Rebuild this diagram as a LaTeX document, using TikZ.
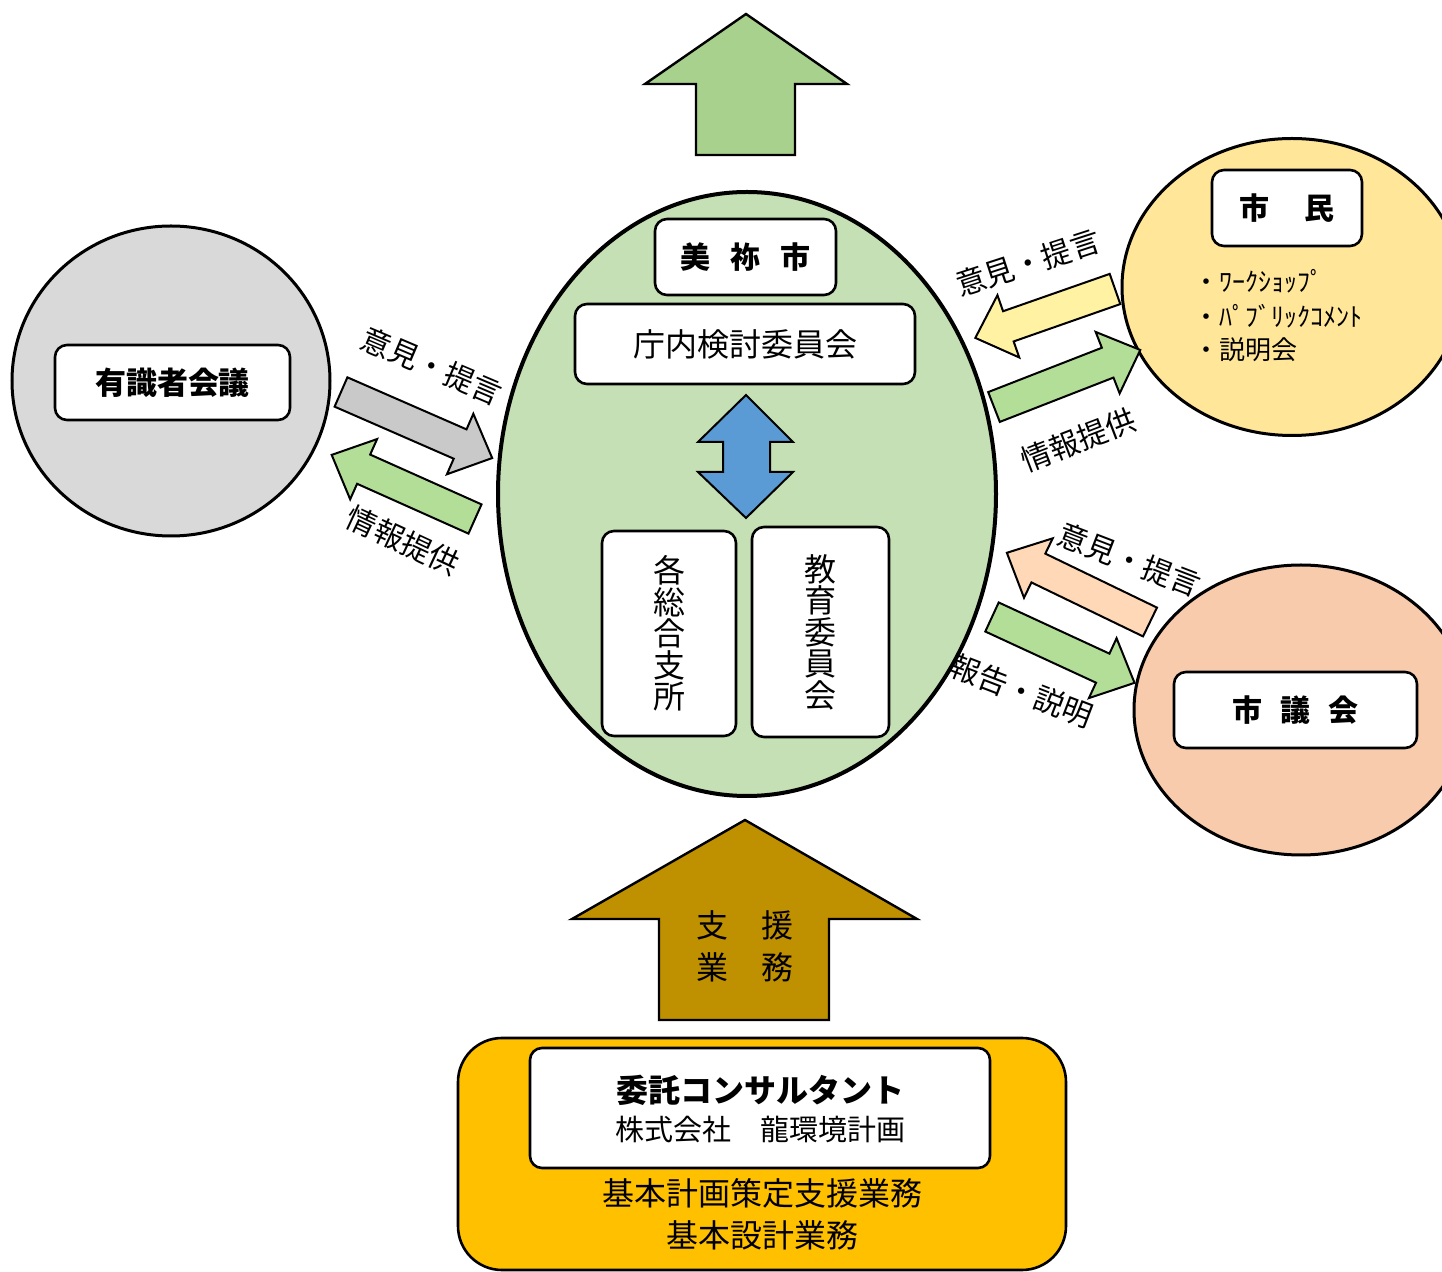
\documentclass[tikz,border=0pt]{standalone}
\usepackage{fontspec}
\setmainfont{Noto Sans CJK JP}
\usetikzlibrary{shapes.geometric}
\definecolor{topgreen}{HTML}{A9D18E}
\definecolor{ellgreen}{HTML}{C5E0B4}
\definecolor{greyc}{HTML}{D9D9D9}
\definecolor{greyarr}{HTML}{C9C9C9}
\definecolor{arrgreen}{HTML}{B3DE98}
\definecolor{yelarr}{HTML}{FFF2A3}
\definecolor{citizen}{HTML}{FFE699}
\definecolor{peacharr}{HTML}{FFD8B8}
\definecolor{council}{HTML}{F8CBAD}
\definecolor{bluearr}{HTML}{5B9BD5}
\definecolor{brownarr}{HTML}{BF9000}
\definecolor{consult}{HTML}{FFC000}
\newcommand{\blkarrow}[4]{%
  \begin{scope}[shift={#2}, rotate=#3]
    \draw[blockarr, fill=#1] (0,-16) -- (#4-35,-16) -- (#4-35,-33) -- (#4,0) -- (#4-35,33) -- (#4-35,16) -- (0,16) -- cycle;
  \end{scope}}
\begin{document}
\begin{tikzpicture}[x=0.5pt,y=-0.5pt,
  box/.style={draw, line width=1.3pt, rounded corners=6pt, fill=white, inner sep=0pt, align=center},
  blob/.style={draw, ellipse, line width=1.5pt, inner sep=0pt},
  blockarr/.style={draw, line width=1pt, line join=miter},
  bigarr/.style={draw, line width=1.2pt, line join=miter},
  lbl/.style={font=\fontsize{15}{15}\selectfont, inner sep=0pt},
  bulletitem/.style={font=\fontsize{13}{13}\selectfont, inner sep=0pt, anchor=west}]
\useasboundingbox (0,0) rectangle (1442,1272);

% top arrow
\draw[bigarr, fill=topgreen] (746,14) -- (847,84) -- (795,84) -- (795,155) -- (696,155) -- (696,84) -- (645,84) -- cycle;

% circles
\node[blob, fill=greyc, minimum width=159pt, minimum height=155pt] (expert) at (171,381) {};
\node[blob, fill=citizen, minimum width=170pt, minimum height=148.5pt] (citizen) at (1292,287) {};
\node[blob, fill=council, minimum width=167pt, minimum height=145pt] (council) at (1301,710) {};
\node[blob, fill=ellgreen, line width=2pt, minimum width=249pt, minimum height=302pt] (city) at (747,494) {};

% boxes in city
\node[box, minimum width=90.5pt, minimum height=38pt, font=\bfseries\fontsize{15}{15}\selectfont] (mine) at (745.5,257) {美\hspace{10pt}祢\hspace{10pt}市};
\node[box, minimum width=170pt, minimum height=40pt, font=\fontsize{16}{16}\selectfont] (chonai) at (745,344) {庁内検討委員会};
\node[box, minimum width=67pt, minimum height=102.5pt, font=\fontsize{16}{15.75}\selectfont] (shisho) at (669,633.5) {各\\総\\合\\支\\所};
\node[box, minimum width=68.5pt, minimum height=105pt, font=\fontsize{16}{15.75}\selectfont] (kyoiku) at (820.5,632) {教\\育\\委\\員\\会};

% blue double arrow
\draw[blockarr, fill=bluearr] (746,395) -- (793,442) -- (770,442) -- (770,472) -- (793,472) -- (746,518) -- (698,472) -- (723,472) -- (723,442) -- (698,442) -- cycle;

% other boxes
\node[box, minimum width=117.5pt, minimum height=37.5pt, font=\bfseries\fontsize{15.5}{15.5}\selectfont] (expertbox) at (172.5,382.5) {有識者会議};
\node[box, minimum width=75pt, minimum height=38pt, font=\bfseries\fontsize{15}{15}\selectfont] (citizenbox) at (1287,208) {市\hspace{17.5pt}民};
\node[box, minimum width=121.5pt, minimum height=38pt, font=\bfseries\fontsize{15}{15}\selectfont] (councilbox) at (1295.5,710) {市\hspace{9pt}議\hspace{9pt}会};

% citizen bullets
\node[bulletitem] (b1) at (1193,281) {・ﾜｰｸｼｮｯﾌﾟ};
\node[bulletitem] (b2) at (1193,316) {・ﾊﾟﾌﾞﾘｯｸｺﾒﾝﾄ};
\node[bulletitem] (b3) at (1193,350) {・説明会};

% exchange arrows
\blkarrow{greyarr}{(341,392)}{-23.6}{165}
\blkarrow{arrgreen}{(475,519)}{155.9}{157}
\blkarrow{yelarr}{(1115,289)}{-160.7}{148}
\blkarrow{arrgreen}{(994,407)}{21.3}{157}
\blkarrow{peacharr}{(1150,622)}{154.2}{159}
\blkarrow{arrgreen}{(992,617)}{-24.8}{157}

% arrow labels
\node[lbl, rotate=-23] (l1) at (432,366) {意見・提言};
\node[lbl, rotate=-25] (l2) at (403,541) {情報提供};
\node[lbl, rotate=18] (l3) at (1028,263) {意見・提言};
\node[lbl, rotate=21] (l4) at (1078,440) {情報提供};
\node[lbl, rotate=-21] (l5) at (1130,560) {意見・提言};
\node[lbl, rotate=-21] (l6) at (1022,691) {報告・説明};

% support arrow
\draw[bigarr, fill=brownarr] (745,820) -- (917,919) -- (829,919) -- (829,1020) -- (659,1020) -- (659,919) -- (572,919) -- cycle;
\node[font=\fontsize{16}{21}\selectfont, align=center, inner sep=0pt] (support) at (745,946) {支\hspace{16.5pt}援\\業\hspace{16.5pt}務};

% consultant
\node[draw, line width=1.3pt, fill=consult, rounded corners=22pt, minimum width=304pt, minimum height=116pt, inner sep=0pt] (consultbg) at (762,1154) {};
\node[box, minimum width=230pt, minimum height=60pt] (consultbox) at (760,1108) {};
\node[font=\bfseries\fontsize{16}{16}\selectfont, inner sep=0pt] (c1) at (760,1090) {委託コンサルタント};
\node[font=\fontsize{14.5}{14.5}\selectfont, inner sep=0pt] (c2) at (760,1130) {株式会社　龍環境計画};
\node[font=\fontsize{16}{21}\selectfont, align=center, inner sep=0pt] (c3) at (762,1214) {基本計画策定支援業務\\基本設計業務};
\end{tikzpicture}
\end{document}
